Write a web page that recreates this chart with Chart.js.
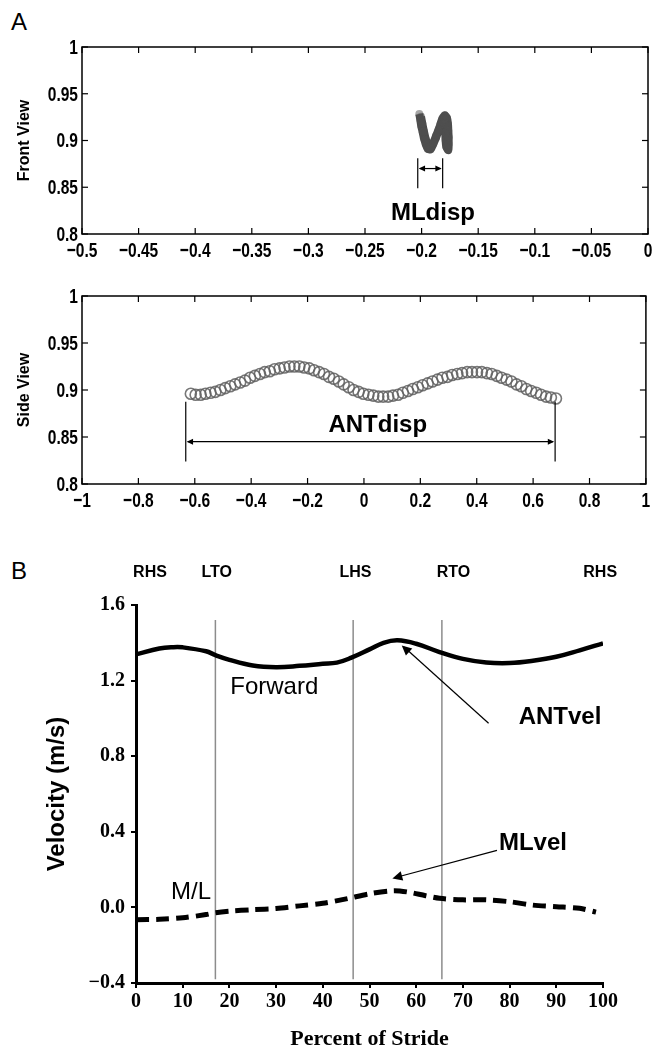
<!DOCTYPE html>
<html>
<head>
<meta charset="utf-8">
<script src="https://cdn.jsdelivr.net/npm/chart.js@4"></script>
<style>
  body { margin: 0; background: #fff; }
  #page { position: relative; width: 653px; height: 1058px; overflow: hidden; }
  canvas { position: absolute; left: 0; }
  .panel { position: absolute; left: 11px; font: 24px 'Liberation Sans', Arial, sans-serif; color: #000; }
</style>
</head>
<body>
<div id="page">
  <div class="panel" style="top:8px">A</div>
  <div class="panel" style="top:557px">B</div>
  <canvas id="front" width="653" height="280" style="top:0"></canvas>
  <canvas id="side" width="653" height="280" style="top:270px"></canvas>
  <canvas id="vel" width="653" height="508" style="top:550px"></canvas>
</div>
<script>
// front view (M/L vs vertical), marker trail
const frontX = [-0.2020, -0.2011, -0.2003, -0.1990, -0.1979, -0.1964, -0.1946, -0.1920, -0.1897, -0.1873,
  -0.1852, -0.1835, -0.1817, -0.1796, -0.1776, -0.1767, -0.1764, -0.1761, -0.1761, -0.1764,
  -0.1782, -0.1788, -0.1791, -0.1793, -0.1799, -0.1826, -0.1849, -0.1873, -0.1897, -0.1932,
  -0.1961, -0.1979, -0.1994, -0.2005];
const frontY = [0.9283, 0.9219, 0.9155, 0.9087, 0.9023, 0.8963, 0.8912, 0.8906, 0.8963, 0.9030,
  0.9098, 0.9169, 0.9233, 0.9269, 0.9241, 0.9176, 0.9105, 0.9034, 0.8963, 0.8898,
  0.8934, 0.9005, 0.9083, 0.9162, 0.9227, 0.9191, 0.9120, 0.9048, 0.8977, 0.8927,
  0.9005, 0.9095, 0.9184, 0.9255];

// side view (forward vs vertical)
const sideX = [-0.614, -0.597, -0.579, -0.562, -0.544, -0.527, -0.509, -0.492, -0.474, -0.457,
  -0.439, -0.422, -0.404, -0.387, -0.369, -0.352, -0.334, -0.317, -0.299, -0.282,
  -0.264, -0.247, -0.229, -0.212, -0.194, -0.177, -0.159, -0.142, -0.124, -0.107,
  -0.089, -0.072, -0.054, -0.037, -0.019, -0.002, 0.016, 0.033, 0.051, 0.068,
  0.086, 0.103, 0.121, 0.138, 0.156, 0.173, 0.191, 0.208, 0.226, 0.243,
  0.261, 0.278, 0.296, 0.313, 0.331, 0.348, 0.366, 0.383, 0.401, 0.418,
  0.436, 0.453, 0.471, 0.488, 0.506, 0.523, 0.541, 0.558, 0.576, 0.593,
  0.611, 0.628, 0.646, 0.663, 0.681];
const sideY = [0.896, 0.895, 0.895, 0.896, 0.897, 0.898, 0.900, 0.902, 0.904, 0.906,
  0.908, 0.910, 0.913, 0.915, 0.917, 0.919, 0.920, 0.922, 0.923, 0.924,
  0.925, 0.925, 0.925, 0.924, 0.923, 0.921, 0.919, 0.917, 0.914, 0.912,
  0.909, 0.906, 0.903, 0.900, 0.898, 0.896, 0.895, 0.894, 0.893, 0.893,
  0.893, 0.894, 0.895, 0.897, 0.899, 0.901, 0.903, 0.905, 0.907, 0.909,
  0.911, 0.913, 0.914, 0.916, 0.917, 0.918, 0.919, 0.919, 0.919, 0.919,
  0.918, 0.917, 0.915, 0.913, 0.911, 0.909, 0.906, 0.904, 0.901, 0.899,
  0.897, 0.895, 0.893, 0.892, 0.891];

// velocity vs percent of stride
const antStride = [0, 5, 8, 10, 15, 17, 20, 25, 30, 35, 40, 43, 46, 50, 53, 56, 60, 65, 70, 75, 80, 85, 90, 95, 100];
const antVel = [1.339, 1.370, 1.377, 1.376, 1.355, 1.335, 1.310, 1.280, 1.271, 1.278, 1.289, 1.295, 1.320,
  1.365, 1.400, 1.413, 1.395, 1.351, 1.315, 1.296, 1.293, 1.305, 1.326, 1.360, 1.397];
const mlStride = [0, 5, 10, 15, 17, 20, 25, 30, 35, 40, 45, 50, 55, 58, 62, 65, 70, 75, 80, 85, 90, 95, 98.5];
const mlVel = [-0.065, -0.063, -0.055, -0.038, -0.028, -0.020, -0.012, -0.006, 0.008, 0.022, 0.045, 0.072,
  0.088, 0.082, 0.062, 0.048, 0.040, 0.040, 0.030, 0.012, 0.004, -0.005, -0.025];

const eventNames = ["RHS", "LTO", "LHS", "RTO", "RHS"];
const eventLabelX = [3, 17.3, 47, 68, 99.4];
const eventLines = [17, 46.5, 65.5];

const sans = "'Liberation Sans', Arial, sans-serif";
const serif = "'Liberation Serif', 'Times New Roman', serif";

function fmt(v, digits) {
  const r = Math.round(v * 1000) / 1000;
  const s = digits === undefined ? String(Math.abs(r)) : Math.abs(r).toFixed(digits);
  return r < 0 ? "\u2212" + s : s;
}

function line(ctx, x1, y1, x2, y2) {
  ctx.beginPath();
  ctx.moveTo(x1, y1);
  ctx.lineTo(x2, y2);
  ctx.stroke();
}

function arrowHead(ctx, fromX, fromY, toX, toY, size) {
  const a = Math.atan2(toY - fromY, toX - fromX);
  ctx.beginPath();
  ctx.moveTo(toX, toY);
  ctx.lineTo(toX - size * Math.cos(a - 0.45), toY - size * Math.sin(a - 0.45));
  ctx.lineTo(toX - size * Math.cos(a + 0.45), toY - size * Math.sin(a + 0.45));
  ctx.closePath();
  ctx.fill();
}

// condensed bold label (no narrow font installed, so squeeze it)
function squeezed(ctx, text, x, y, align) {
  ctx.save();
  ctx.translate(x, y);
  ctx.scale(0.74, 1);
  ctx.textAlign = align;
  ctx.fillText(text, 0, 0);
  ctx.restore();
}

// box with inward ticks, matlab style
const framePlugin = {
  id: "frame",
  afterDraw(chart) {
    const { ctx, chartArea: a, scales } = chart;
    ctx.save();
    ctx.strokeStyle = "#000";
    ctx.fillStyle = "#000";
    ctx.lineWidth = 1.5;
    ctx.strokeRect(a.left, a.top, a.right - a.left, a.bottom - a.top);
    ctx.lineWidth = 1.2;
    ctx.font = "bold 21px " + sans;
    ctx.textBaseline = "middle";
    scales.x.ticks.forEach((t) => {
      const px = scales.x.getPixelForValue(t.value);
      line(ctx, px, a.bottom, px, a.bottom - 6);
      line(ctx, px, a.top, px, a.top + 6);
      squeezed(ctx, fmt(t.value), px, a.bottom + 17, "center");
    });
    scales.y.ticks.forEach((t) => {
      const py = scales.y.getPixelForValue(t.value);
      line(ctx, a.left, py, a.left + 6, py);
      line(ctx, a.right, py, a.right - 6, py);
      squeezed(ctx, fmt(t.value), a.left - 4, py + 1, "right");
    });
    ctx.restore();
  },
};

// span marker: two bars, a double arrow and a label
function spanPlugin(x1, x2, barTop, barBottom, arrowY, text, textX, textY) {
  return {
    id: "span",
    afterDraw(chart) {
      const { ctx, scales } = chart;
      const px1 = scales.x.getPixelForValue(x1);
      const px2 = scales.x.getPixelForValue(x2);
      const py = scales.y.getPixelForValue(arrowY);
      ctx.save();
      ctx.strokeStyle = "#000";
      ctx.fillStyle = "#000";
      ctx.lineWidth = 1.2;
      line(ctx, px1, scales.y.getPixelForValue(barTop), px1, scales.y.getPixelForValue(barBottom));
      line(ctx, px2, scales.y.getPixelForValue(barTop), px2, scales.y.getPixelForValue(barBottom));
      line(ctx, px1 + 2, py, px2 - 2, py);
      arrowHead(ctx, px2, py, px1 + 1, py, 7);
      arrowHead(ctx, px1, py, px2 - 1, py, 7);
      ctx.font = "bold 24px " + sans;
      ctx.textAlign = "center";
      ctx.textBaseline = "middle";
      ctx.fillText(text, scales.x.getPixelForValue(textX), scales.y.getPixelForValue(textY));
      ctx.restore();
    },
  };
}

function boxScales(xMin, xMax, xStep, title, xHeight) {
  return {
    x: {
      type: "linear", min: xMin, max: xMax,
      grid: { display: false }, border: { display: false },
      afterFit: (s) => { s.height = xHeight; },
      ticks: { stepSize: xStep, autoSkip: false, display: false },
    },
    y: {
      type: "linear", min: 0.8, max: 1,
      grid: { display: false }, border: { display: false },
      afterFit: (s) => { s.width = 82; },
      title: {
        display: true, text: title, color: "#000",
        font: { family: sans, size: 16, weight: "bold" }, padding: { top: 15, bottom: 0 },
      },
      ticks: { stepSize: 0.05, display: false },
    },
  };
}

new Chart(document.getElementById("front"), {
  type: "scatter",
  data: {
    datasets: [{
      data: frontX.map((x, i) => ({ x: x, y: frontY[i] })),
      showLine: true,
      tension: 0.3,
      borderColor: "rgba(45,45,45,0.85)",
      borderWidth: 8,
      pointRadius: 4,
      pointBackgroundColor: "rgba(80,80,80,0.5)",
      pointBorderWidth: 0,
    }],
  },
  options: {
    responsive: false, animation: false,
    layout: { padding: { top: 47, right: 5, left: 0, bottom: 0 } },
    plugins: { legend: { display: false }, tooltip: { enabled: false } },
    scales: boxScales(-0.5, 0, 0.05, "Front View", 46),
  },
  plugins: [framePlugin, spanPlugin(-0.2034, -0.1814, 0.881, 0.849, 0.870, "MLdisp", -0.190, 0.8225)],
});

new Chart(document.getElementById("side"), {
  type: "scatter",
  data: {
    datasets: [{
      data: sideX.map((x, i) => ({ x: x, y: sideY[i] })),
      pointStyle: "circle",
      pointRadius: 5.5,
      pointBorderWidth: 1.6,
      pointBorderColor: "rgba(95,95,95,0.85)",
      pointBackgroundColor: "rgba(255,255,255,0)",
    }],
  },
  options: {
    responsive: false, animation: false,
    layout: { padding: { top: 26, right: 5, left: 0, bottom: 0 } },
    plugins: { legend: { display: false }, tooltip: { enabled: false } },
    scales: boxScales(-1, 1, 0.2, "Side View", 66),
  },
  plugins: [framePlugin, spanPlugin(-0.632, 0.678, 0.8876, 0.824, 0.845, "ANTdisp", 0.049, 0.862)],
});

const velNotes = {
  id: "velNotes",
  beforeDatasetsDraw(chart) {
    const { ctx, scales } = chart;
    ctx.save();
    ctx.strokeStyle = "#8c8c8c";
    ctx.lineWidth = 1.5;
    eventLines.forEach((v) => {
      const px = scales.x.getPixelForValue(v);
      line(ctx, px, scales.y.getPixelForValue(1.52), px, scales.y.getPixelForValue(-0.38));
    });
    ctx.restore();
  },
  afterDraw(chart) {
    const { ctx, scales } = chart;
    const X = (v) => scales.x.getPixelForValue(v);
    const Y = (v) => scales.y.getPixelForValue(v);
    ctx.save();
    ctx.fillStyle = "#000";
    ctx.strokeStyle = "#000";
    ctx.textAlign = "center";
    ctx.textBaseline = "middle";
    ctx.font = "bold 16px " + sans;
    eventNames.forEach((n, i) => ctx.fillText(n, X(eventLabelX[i]), chart.chartArea.top - 32));
    ctx.font = "24px " + sans;
    ctx.fillText("Forward", X(29.6), Y(1.164));
    ctx.fillText("M/L", X(11.8), Y(0.079));
    ctx.font = "bold 24px " + sans;
    ctx.fillText("ANTvel", X(90.8), Y(1.005));
    ctx.fillText("MLvel", X(85), Y(0.339));
    ctx.lineWidth = 1.2;
    line(ctx, X(75.5), Y(0.974), X(57.4), Y(1.378));
    arrowHead(ctx, X(75.5), Y(0.974), X(56.9), Y(1.386), 11);
    line(ctx, X(77.3), Y(0.302), X(55.6), Y(0.158));
    arrowHead(ctx, X(77.3), Y(0.302), X(54.9), Y(0.153), 11);
    ctx.restore();
  },
};

new Chart(document.getElementById("vel"), {
  type: "line",
  data: {
    datasets: [
      {
        label: "Forward",
        data: antStride.map((x, i) => ({ x: x, y: antVel[i] })),
        borderColor: "#000",
        borderWidth: 4.5,
        tension: 0.4,
        pointRadius: 0,
      },
      {
        label: "M/L",
        data: mlStride.map((x, i) => ({ x: x, y: mlVel[i] })),
        borderColor: "#000",
        borderWidth: 5,
        borderDash: [13, 7],
        tension: 0.3,
        pointRadius: 0,
      },
    ],
  },
  options: {
    responsive: false, animation: false,
    layout: { padding: { top: 55, right: 50, left: 0, bottom: 0 } },
    plugins: { legend: { display: false }, tooltip: { enabled: false } },
    scales: {
      x: {
        type: "linear", min: 0, max: 100,
        afterFit: (s) => { s.height = 75; },
        border: { display: true, width: 3, color: "#000" },
        grid: { drawOnChartArea: false, drawTicks: true, tickLength: 5, color: "#000", lineWidth: 2 },
        title: {
          display: true, text: "Percent of Stride", color: "#000",
          font: { family: serif, size: 22, weight: "bold" }, padding: { top: 0, bottom: 5 },
        },
        ticks: {
          stepSize: 10, autoSkip: false, maxRotation: 0, padding: 2, color: "#000",
          font: { family: serif, size: 20, weight: "bold" },
        },
      },
      y: {
        type: "linear", min: -0.4, max: 1.6,
        afterFit: (s) => { s.width = 136; },
        border: { display: true, width: 3, color: "#000" },
        grid: { drawOnChartArea: false, drawTicks: true, tickLength: 5, color: "#000", lineWidth: 2 },
        title: {
          display: true, text: "Velocity (m/s)", color: "#000",
          font: { family: sans, size: 24, weight: "bold" }, padding: { top: 43, bottom: 0 },
        },
        ticks: {
          stepSize: 0.4, padding: 6, color: "#000",
          font: { family: serif, size: 20, weight: "bold" },
          callback: (v) => fmt(v, 1),
        },
      },
    },
  },
  plugins: [velNotes],
});
</script>
</body>
</html>
